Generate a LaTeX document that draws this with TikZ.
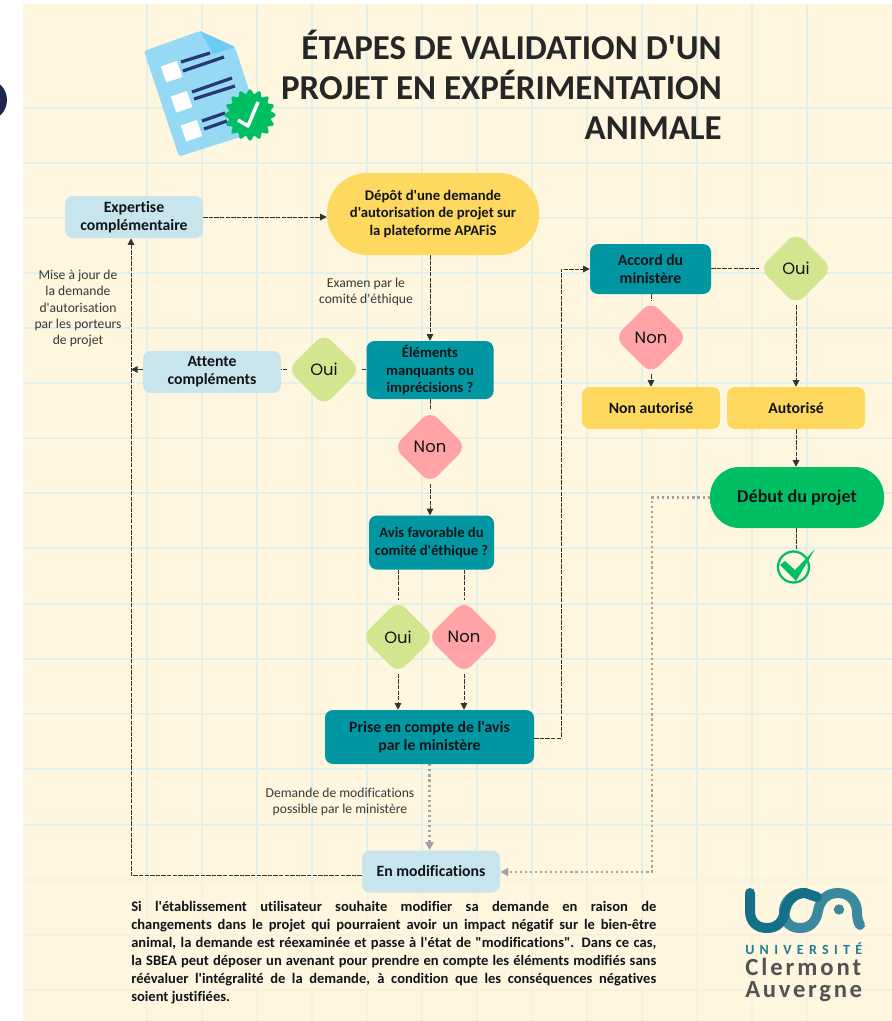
\documentclass[tikz,border=0pt]{standalone}
\usepackage{fontspec}
\usetikzlibrary{arrows.meta,shapes.geometric,calc}
\setmainfont[Ligatures=NoCommon]{Carlito}
\newfontfamily\carl[Ligatures=NoCommon]{Carlito}
\newfontfamily\pop{Poppins}
\def\px{0.75pt}
\definecolor{cream}{HTML}{FEF6DF}
\definecolor{gridc}{HTML}{E4EFE9}
\definecolor{gridf}{HTML}{F8F1DF}
\definecolor{lblue}{HTML}{C8E4EC}
\definecolor{yell}{HTML}{FFD95F}
\definecolor{teal2}{HTML}{0097A3}
\definecolor{gre}{HTML}{00BF63}
\definecolor{ygreen}{HTML}{D3E68F}
\definecolor{pinkd}{HTML}{FFA3A6}
\definecolor{navy}{HTML}{283673}
\definecolor{txt}{HTML}{101418}
\definecolor{docb}{HTML}{96D9F5}
\definecolor{foldb}{HTML}{6CCBF5}
\definecolor{logoa}{HTML}{147089}
\definecolor{logob}{HTML}{398A9E}
\definecolor{logot}{HTML}{1E7D96}
\pgfdeclarelayer{gridl}
\pgfdeclarelayer{conn}
\pgfsetlayers{gridl,conn,main}
\tikzset{
  pbox/.style={draw=none,inner sep=0pt,align=center,text=txt,rounded corners=6pt,
     font=\carl\bfseries\fontsize{11.8}{13.6}\selectfont},
  tealbox/.style={pbox,fill=teal2},
  bluebox/.style={pbox,fill=lblue},
  yellbox/.style={pbox,fill=yell},
  dia/.style={diamond,aspect=1,inner sep=0pt,minimum size=73*\px,rounded corners=8pt,text=txt,
     font=\pop\fontsize{12.3}{14}\selectfont},
  diaO/.style={dia,fill=ygreen},
  diaN/.style={dia,fill=pinkd},
  note/.style={inner sep=0pt,align=center,text=black!78,font=\carl\fontsize{10.2}{12.1}\selectfont},
  lnk/.style={draw=black!80,line width=0.7pt,dash pattern=on 3.2pt off 1pt},
  arr/.style={lnk,-{Triangle[length=5pt,width=5pt]}},
  dot/.style={draw=black!36,line width=1.8pt,dash pattern=on 1.6pt off 2.2pt},
  dotarr/.style={dot,-{Triangle[length=6pt,width=6pt,fill=black!36]}},
}
\begin{document}
\begin{tikzpicture}[x=0.75pt,y=-0.75pt]
\useasboundingbox (0,0) rectangle (892,1021);
\begin{pgfonlayer}{gridl}
\fill[white] (0,0) rectangle (892,1021);
\begin{scope}
\clip (0,0) rectangle (10,200);
\fill[navy!70!black] (-14,100) circle (21);
\end{scope}
\fill[cream] (23,4) rectangle (892,1021);
\foreach \y in {108,163,218,273,328,383,438,493,548,604,659,714,769,825}
  \draw[gridc,line width=2.2pt] (23,\y) -- (892,\y);
\foreach \y in {880,935,990}
  \draw[gridf,line width=2.2pt] (23,\y) -- (892,\y);
\foreach \x in {147,202,...,807}{
  \draw[gridc,line width=2.2pt] (\x,4) -- (\x,880);
  \draw[gridf,line width=2.2pt] (\x,880) -- (\x,1021);
}
\end{pgfonlayer}

% title
\node[inner sep=0pt,anchor=north east,align=right,text=black!85,
  font=\carl\bfseries\fontsize{26.2}{30}\selectfont] (title) at (722,30)
  {ÉTAPES DE VALIDATION D'UN\\PROJET EN EXPÉRIMENTATION\\ANIMALE};

% document icon
\fill[docb,rounded corners=2pt]
  (144,51) -- (200,31) -- (235,47) -- (262,130) -- (179,156.5) -- cycle;
\fill[foldb] (200,31) -- (235,47) -- (213,54) -- cycle;
\foreach \p in {(172,72),(182,102),(192,131)}
  \fill[white] \p ++(-11.2,-5.5) -- ++(16,-5.5) -- ++(5.5,16) -- ++(-16,5.5) -- cycle;
\foreach \a/\b/\c/\d in {181/62/210/53, 183/71/224/57, 192/92/232/78, 194/99/235/86, 202/121/225/113, 204/129/227/121}
  \draw[navy,line width=2.4pt] (\a,\b) -- (\c,\d);
\fill[gre,shift={(250,115)}] plot[domain=0:360,samples=129] ({(23.5+2.2*cos(16*\x))*cos(\x)},{(23.5+2.2*cos(16*\x))*sin(\x)}) -- cycle;
\draw[white,line width=2.6pt,line join=round] (238,120) -- (248,126) -- (258,102);

% nodes
\node[bluebox,minimum width=138*\px,minimum height=42*\px] (exp) at (134,217) {Expertise\\complémentaire};
\node[yellbox,rounded corners=30pt,minimum width=212*\px,minimum height=82*\px,font=\carl\bfseries\fontsize{11}{13.4}\selectfont] (dep) at (433,214) {Dépôt d'une demande\\d'autorisation de projet sur\\la plateforme APAFiS};
\node[tealbox,minimum width=121*\px,minimum height=50*\px] (acc) at (650.5,269) {Accord du\\ministère};
\node[diaO] (oui1) at (796,268.5) {Oui};
\node[diaN] (non1) at (651,337.5) {Non};
\node[yellbox,minimum width=138*\px,minimum height=42*\px] (nona) at (651,408) {Non autorisé};
\node[yellbox,minimum width=138*\px,minimum height=42*\px] (aut) at (796,408) {Autorisé};
\node[pbox,fill=gre,rounded corners=22pt,minimum width=174*\px,minimum height=61*\px,font=\carl\bfseries\fontsize{13.6}{15}\selectfont] (deb) at (797,497.5) {Début du projet};
\node[tealbox,minimum width=127*\px,minimum height=58*\px,font=\carl\bfseries\fontsize{11}{13.4}\selectfont] (ele) at (430,370) {Éléments\\manquants ou\\imprécisions ?};
\node[diaO] (oui2) at (324,369.5) {Oui};
\node[bluebox,minimum width=138*\px,minimum height=42*\px] (att) at (212,372) {Attente\\compléments};
\node[diaN] (non2) at (430,447) {Non};
\node[tealbox,minimum width=125*\px,minimum height=54*\px,font=\carl\bfseries\fontsize{11}{13.4}\selectfont] (avis) at (431.5,542.5) {Avis favorable du\\comité d'éthique ?};
\node[diaO] (oui3) at (398,637) {Oui};
\node[diaN] (non3) at (464,637) {Non};
\node[tealbox,minimum width=209*\px,minimum height=54*\px] (pri) at (429.5,737) {Prise en compte de l'avis\\par le ministère};
\node[bluebox,minimum width=138*\px,minimum height=42*\px] (mod) at (431,871.5) {En modifications};

% notes
\node[note] (n1) at (78,308.5) {Mise à jour de\\la demande\\d'autorisation\\par les porteurs\\de projet};
\node[note] (n2) at (366,292) {Examen par le\\comité d'éthique};
\node[note] (n3) at (340,802) {Demande de modifications\\possible par le ministère};

% paragraph
\node[inner sep=0pt,anchor=north west,align=left,text=txt,font=\carl\bfseries\fontsize{10.9}{13.5}\selectfont] (para) at (131,901)
{\makebox[393.75pt][s]{Si l'établissement utilisateur souhaite modifier sa demande en raison de}\\
\makebox[393.75pt][s]{changements dans le projet qui pourraient avoir un impact négatif sur le bien-être}\\
\makebox[393.75pt][s]{animal, la demande est réexaminée et passe à l'état de "modifications". Dans ce cas,}\\
\makebox[393.75pt][s]{la SBEA peut déposer un avenant pour prendre en compte les éléments modifiés sans}\\
\makebox[393.75pt][s]{réévaluer l'intégralité de la demande, à condition que les conséquences négatives}\\
soient justifiées.};

% check mark
\coordinate (chk) at (796,551);
\draw[gre,line width=1.7pt] (793.5,567) circle (15.5);
\fill[gre] (780,565) -- (785,561) -- (795,570) -- (815,549) -- (796,581) -- cycle;

% logo
\begin{scope}[line width=7.5pt,line cap=round]
\draw[logob] (803,893) .. controls (793,893) and (784,902) .. (784,911) .. controls (784,922) and (790,928) .. (800,928) .. controls (810,928) and (816,922) .. (818,911) .. controls (820,900) and (827,893) .. (838,893) .. controls (850,893) and (857,902) .. (857,912) .. controls (857,918) and (858,922) .. (860,925);
\draw[logoa] (750,893) -- (750,911) .. controls (750,922) and (757,928) .. (767,928) .. controls (777,928) and (783,922) .. (785,911) .. controls (787,900) and (795,893) .. (805,893) -- (817,897);
\end{scope}
\fill[logob] (839,909.5) circle (5.2);
\node[inner sep=0pt,anchor=west,text=logot,font={\carl\bfseries\fontsize{10.5}{12}\selectfont\addfontfeatures{LetterSpace=38}}] (uni) at (745,949) {UNIVERSITÉ};
\node[inner sep=0pt,anchor=west,text=black!68,font={\carl\bfseries\fontsize{18.5}{20}\selectfont\addfontfeatures{LetterSpace=12}}] (cle) at (745,967) {Clermont};
\node[inner sep=0pt,anchor=west,text=black!68,font={\carl\bfseries\fontsize{18.5}{20}\selectfont\addfontfeatures{LetterSpace=11}}] (auv) at (745,992) {Auvergne};

% connectors
\begin{pgfonlayer}{conn}
\draw[arr] (exp.east) -- (exp.east -| dep.west);
\draw[arr] (dep.south -| ele.north) -- (ele.north);
\draw[lnk] (ele.west |- oui2.east) -- (oui2.east);
\draw[lnk] (oui2.west) -- (oui2.west -| att.east);
\coordinate (lft) at (131,875);
\draw[arr] (att.west |- oui2.west) -- (lft |- oui2.west);
\draw[arr] (mod.west |- lft) -- (lft) -- (lft |- exp.south);
\draw[lnk] (ele.south) -- (non2.north);
\draw[arr] (non2.south) -- (non2.south |- avis.north);
\draw[lnk] (oui3.north |- avis.south) -- (oui3.north);
\draw[lnk] (non3.north |- avis.south) -- (non3.north);
\draw[arr] (oui3.south) -- (oui3.south |- pri.north);
\draw[arr] (non3.south) -- (non3.south |- pri.north);
\coordinate (mid) at (561,738);
\draw[arr] (pri.east |- mid) -- (mid) -- (mid |- acc.west) -- (acc.west);
\draw[lnk] (acc.east |- oui1.west) -- (oui1.west);
\draw[lnk] (non1.north |- acc.south) -- (non1.north);
\draw[arr] (non1.south) -- (nona.north);
\draw[arr] (oui1.south) -- (aut.north);
\draw[arr] (aut.south) -- (aut.south |- deb.north);
\draw[lnk] (chk |- deb.south) -- (chk);
\draw[dotarr] (pri.south) -- (pri.south |- mod.north);
\coordinate (rgt) at (652,872);
\draw[dotarr] (deb.west) -- (rgt |- deb.west) -- (rgt) -- (mod.east |- rgt);
\end{pgfonlayer}
\end{tikzpicture}
\end{document}
